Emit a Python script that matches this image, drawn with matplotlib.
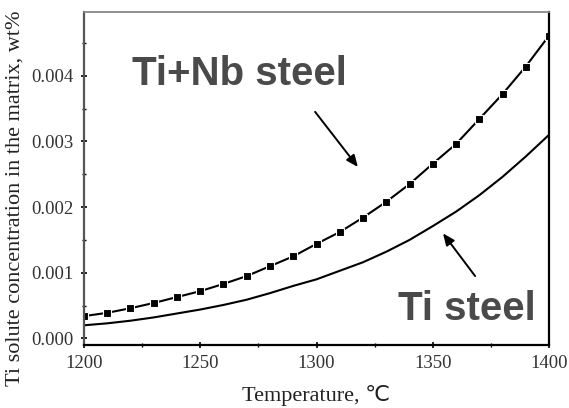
import numpy as np
import matplotlib
matplotlib.use('Agg')
import matplotlib.pyplot as plt
from matplotlib.ticker import MultipleLocator

# temperatures, deg C
temps = [1200, 1210, 1220, 1230, 1240, 1250, 1260, 1270, 1280, 1290, 1300,
         1310, 1320, 1330, 1340, 1350, 1360, 1370, 1380, 1390, 1400]
# Ti solute in matrix, wt%
ti_nb = [0.00034, 0.00039, 0.00046, 0.00054, 0.00063, 0.00072, 0.00083,
         0.00095, 0.00110, 0.00125, 0.00144, 0.00162, 0.00184, 0.00208,
         0.00235, 0.00266, 0.00296, 0.00334, 0.00372, 0.00414, 0.00461]
ti_only = [0.00020, 0.00023, 0.00027, 0.00032, 0.00038, 0.00044, 0.00051,
           0.00059, 0.00069, 0.00080, 0.00090, 0.00103, 0.00116, 0.00132,
           0.00150, 0.00171, 0.00193, 0.00218, 0.00246, 0.00277, 0.00310]

serif = ['Liberation Serif', 'DejaVu Sans']

fig = plt.figure(figsize=(5.69, 4.08), dpi=100)
ax = fig.add_axes([0.1476, 0.1544, 0.8173, 0.8162])

ax.plot(temps, ti_only, '-', color='black', lw=1.5)
ax.plot(temps, ti_nb, '-', color='black', lw=1.5, marker='s', ms=5.5,
        markerfacecolor='black', markeredgecolor='white', markeredgewidth=0.8)

ax.set_xlim(1200, 1400)
ax.set_ylim(-0.0001, 0.00497)
ax.xaxis.set_major_locator(MultipleLocator(50))
ax.xaxis.set_minor_locator(MultipleLocator(25))
ax.yaxis.set_major_locator(MultipleLocator(0.001))
ax.yaxis.set_minor_locator(MultipleLocator(0.0005))
ax.yaxis.set_major_formatter(matplotlib.ticker.FormatStrFormatter('%.3f'))

ax.tick_params(which='major', direction='inout', length=5, width=1.2, pad=5)
ax.tick_params(which='minor', direction='inout', length=3, width=1.0)
for lab in ax.get_xticklabels() + ax.get_yticklabels():
    lab.set_family(serif)
    lab.set_fontsize(13.5)
    lab.set_color('#333333')

for side in ['bottom', 'right']:
    ax.spines[side].set_linewidth(1.6)
    ax.spines[side].set_color('black')
ax.spines['left'].set_linewidth(1.6)
ax.spines['left'].set_color('#555555')
ax.spines['top'].set_linewidth(1.3)
ax.spines['top'].set_color('#888888')

ax.set_xlabel('Temperature, \u2103', family=serif, fontsize=16, labelpad=9,
              color='#222222')
ax.set_ylabel('Ti solute concentration in the matrix, wt%', family=serif,
              fontsize=16, color='#222222')
ax.yaxis.set_label_coords(-0.128, 0.44)

ax.text(1220.6, 0.00386, 'Ti+Nb steel', family='Liberation Sans',
        weight='bold', fontsize=29, color='#4a4a4a', ha='left', va='baseline')
ax.text(1335, 0.000275, 'Ti steel', family='Liberation Sans',
        weight='bold', fontsize=29, color='#4a4a4a', ha='left', va='baseline')

arrow = dict(arrowstyle='-|>,head_length=0.7,head_width=0.3', color='black',
             lw=1.4, shrinkA=0, shrinkB=0)
ax.annotate('', xy=(1317.8, 0.00261), xytext=(1299.4, 0.00345),
            arrowprops=arrow)
ax.annotate('', xy=(1354.4, 0.00160), xytext=(1368.2, 0.00095),
            arrowprops=arrow)

fig.savefig('out.png', dpi=100)
